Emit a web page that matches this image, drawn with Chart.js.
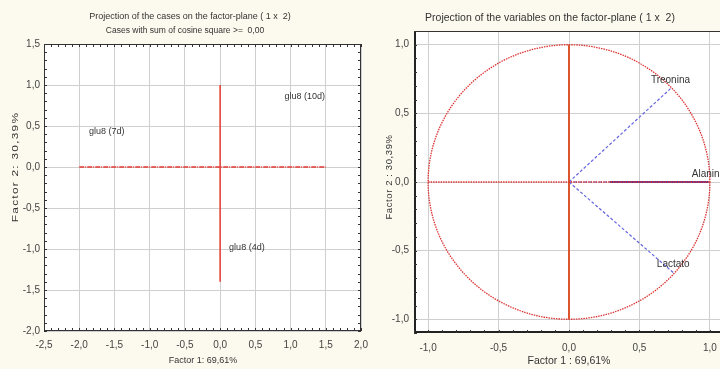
<!DOCTYPE html>
<html>
<head>
<meta charset="utf-8">
<script src="https://cdn.jsdelivr.net/npm/chart.js@4.4.0/dist/chart.umd.min.js"></script>
<style>
  html, body { margin: 0; padding: 0; background: #fcfaee; overflow: hidden; width: 720px; height: 369px; }
  canvas { position: absolute; top: 0; }
  #cases { left: 0; }
  #vars { left: 364px; }
</style>
</head>
<body>
<canvas id="cases" width="370" height="369"></canvas>
<canvas id="vars" width="370" height="369"></canvas>
<script>
// cases on the factor plane
const caseNames = ['glu8 (10d)', 'glu8 (7d)', 'glu8 (4d)'];
const caseF1 = [1.2, -1.61, 0.38];
const caseF2 = [0.765, 0.33, -1.08];
const caseLineH = [-2.0, 1.5];   // red line along factor 1
const caseLineV = [1.0, -1.4];   // red line along factor 2

// variables on the factor plane
const varNames = ['Treonina', 'Alanina', 'Lactato'];
const varF1 = [0.72, 0.99, 0.74];
const varF2 = [0.68, 0.0, -0.66];
const alaninaSeg = [0.29, 0.99];
const varLineH = [-1.0, 1.0];
const varLineV = [-1.0, 1.0];
const circleR = 1.0;
const origin = [0, 0];

Chart.defaults.font.family = "'Liberation Sans', Arial, sans-serif";
Chart.defaults.font.size = 10;
Chart.defaults.color = '#444';

const fmt = v => v.toFixed(1).replace('.', ',');

const plotBg = {
  id: 'plotBg',
  beforeDraw(chart) {
    const { ctx, chartArea: a } = chart;
    ctx.save();
    ctx.fillStyle = '#ffffff';
    ctx.fillRect(a.left, a.top, a.right - a.left, a.bottom - a.top);
    ctx.restore();
  }
};

const pointLabels = {
  id: 'pointLabels',
  afterDatasetsDraw(chart, args, o) {
    const { ctx, scales: { x, y } } = chart;
    ctx.save();
    ctx.font = o.font;
    ctx.fillStyle = '#333';
    ctx.textAlign = 'center';
    ctx.textBaseline = 'middle';
    o.names.forEach((n, i) => {
      ctx.fillText(n, x.getPixelForValue(o.xs[i]), y.getPixelForValue(o.ys[i]) - o.gap);
    });
    ctx.restore();
  }
};

// frame with small inner ticks, titles
const frame = {
  id: 'frame',
  afterDraw(chart, args, o) {
    const { ctx, chartArea: a, scales: { x, y } } = chart;
    ctx.save();
    ctx.strokeStyle = '#333';
    ctx.lineWidth = 1;
    ctx.strokeRect(a.left + 0.5, a.top + 0.5, a.right - a.left - 1, a.bottom - a.top - 1);
    if (o.heavy) {
      ctx.lineWidth = 2;
      ctx.strokeStyle = '#222';
      ctx.beginPath();
      ctx.moveTo(a.left + 1, a.top);
      ctx.lineTo(a.left + 1, a.bottom - 1);
      ctx.lineTo(a.right, a.bottom - 1);
      ctx.stroke();
    }
    ctx.lineWidth = 1;
    ctx.strokeStyle = '#333';
    ctx.beginPath();
    for (let i = Math.ceil(x.min * 10); i <= Math.floor(x.max * 10); i++) {
      const px = Math.round(x.getPixelForValue(i / 10)) + 0.5;
      ctx.moveTo(px, a.bottom); ctx.lineTo(px, a.bottom - 3);
      if (o.allSides) { ctx.moveTo(px, a.top); ctx.lineTo(px, a.top + 3); }
    }
    for (let i = Math.ceil(y.min * 10); i <= Math.floor(y.max * 10); i++) {
      const py = Math.round(y.getPixelForValue(i / 10)) + 0.5;
      ctx.moveTo(a.left, py); ctx.lineTo(a.left + 3, py);
      if (o.allSides) { ctx.moveTo(a.right, py); ctx.lineTo(a.right - 3, py); }
    }
    ctx.stroke();

    ctx.fillStyle = '#333';
    ctx.textAlign = 'center';
    ctx.textBaseline = 'middle';
    o.titles.forEach(t => {
      ctx.font = t.font;
      ctx.fillText(t.text, t.x, t.y);
    });
    ctx.font = o.xTitleFont;
    ctx.fillText(o.xTitle, o.xTitlePos[0], o.xTitlePos[1]);
    ctx.font = o.yTitleFont;
    ctx.letterSpacing = o.ySpacing;
    ctx.translate(o.yTitlePos[0], o.yTitlePos[1]);
    ctx.rotate(-Math.PI / 2);
    ctx.scale(o.yStretch, 1);
    ctx.fillText(o.yTitle, 0, 0);
    ctx.restore();
  }
};

const unitCircle = {
  id: 'unitCircle',
  beforeDatasetsDraw(chart) {
    const { ctx, scales: { x, y } } = chart;
    const cx = x.getPixelForValue(origin[0]);
    const cy = y.getPixelForValue(origin[1]);
    const rx = x.getPixelForValue(circleR) - cx;
    const ry = cy - y.getPixelForValue(circleR);
    ctx.save();
    ctx.strokeStyle = 'rgb(220,50,50)';
    ctx.lineWidth = 1.3;
    ctx.setLineDash([1.5, 1]);
    ctx.beginPath();
    ctx.ellipse(cx, cy, rx, ry, 0, 0, Math.PI * 2);
    ctx.stroke();
    ctx.restore();
  }
};

function linScale(min, max, w, pad, isY) {
  return {
    type: 'linear', min: min, max: max,
    grid: { color: '#cfcfcf', drawTicks: false },
    border: { display: false },
    ticks: { stepSize: 0.5, includeBounds: false, padding: pad, color: '#444', callback: v => fmt(v) },
    afterBuildTicks: s => { s.ticks = s.ticks.filter(t => Math.abs(t.value * 2 - Math.round(t.value * 2)) < 1e-6); },
    afterFit: s => {
      if (isY) { s.width = w; s.paddingTop = 0; s.paddingBottom = 0; }
      else { s.height = w; s.paddingLeft = 0; s.paddingRight = 0; }
    }
  };
}

new Chart(document.getElementById('cases'), {
  type: 'scatter',
  data: {
    datasets: [
      { data: caseF1.map((v, i) => ({ x: v, y: caseF2[i] })), pointRadius: 0 },
      { data: caseLineH.map(v => ({ x: v, y: 0 })), showLine: true, borderColor: 'rgb(225,55,50)', borderWidth: 1.3, borderDash: [5, 1, 1, 1], pointRadius: 0 },
      { data: caseLineV.map(v => ({ x: 0, y: v })), showLine: true, borderColor: 'rgb(230,60,50)', borderWidth: 1.5, pointRadius: 0 }
    ]
  },
  options: {
    responsive: false,
    animation: false,
    layout: { padding: { left: 0, top: 44, right: 9, bottom: 0 } },
    scales: {
      x: linScale(-2.5, 2.0, 38, 8, false),
      y: linScale(-2.0, 1.5, 44, 4, true)
    },
    plugins: {
      legend: { display: false },
      tooltip: { enabled: false },
      pointLabels: { names: caseNames, xs: caseF1, ys: caseF2, gap: 8, font: "9px 'Liberation Sans', Arial" },
      frame: {
        allSides: true,
        titles: [
          { text: 'Projection of the cases on the factor-plane ( 1 x  2)', x: 190, y: 17, font: "9px 'Liberation Sans', Arial" },
          { text: 'Cases with sum of cosine square >=  0,00', x: 185, y: 31, font: "8.5px 'Liberation Sans', Arial" }
        ],
        xTitleFont: "9px 'Liberation Sans', Arial",
        xTitle: 'Factor 1: 69,61%', xTitlePos: [203, 361],
        yTitleFont: "9.5px 'Liberation Sans', Arial",
        yTitle: 'Factor 2: 30,39%', yTitlePos: [15, 167], ySpacing: '1px', yStretch: 1.25
      }
    }
  },
  plugins: [plotBg, pointLabels, frame]
});

new Chart(document.getElementById('vars'), {
  type: 'scatter',
  data: {
    datasets: [
      { data: varLineH.map(v => ({ x: v, y: 0 })), showLine: true, borderColor: 'rgb(225,50,50)', borderWidth: 1.3, borderDash: [1.5, 1], pointRadius: 0 },
      { data: varLineV.map(v => ({ x: 0, y: v })), showLine: true, borderColor: 'rgb(220,85,45)', borderWidth: 2, pointRadius: 0 },
      { data: alaninaSeg.map(v => ({ x: v, y: 0 })), showLine: true, borderColor: 'rgb(85,55,150)', borderWidth: 2, pointRadius: 0 },
      ...varF1.map((v, i) => ({
        data: [{ x: origin[0], y: origin[1] }, { x: v, y: varF2[i] }],
        showLine: true, borderColor: 'rgb(100,100,225)', borderWidth: 1.2, borderDash: [3, 2], pointRadius: 0
      }))
    ]
  },
  options: {
    responsive: false,
    animation: false,
    layout: { padding: { left: 0, top: 31, right: 10, bottom: 0 } },
    scales: {
      x: linScale(-1.1, 1.1, 36, 9, false),
      y: linScale(-1.1, 1.1, 50, 5, true)
    },
    plugins: {
      legend: { display: false },
      tooltip: { enabled: false },
      pointLabels: { names: varNames, xs: varF1, ys: varF2, gap: 8, font: "10px 'Liberation Sans', Arial" },
      frame: {
        allSides: false,
        heavy: true,
        titles: [
          { text: 'Projection of the variables on the factor-plane ( 1 x  2)', x: 186, y: 18, font: "10.5px 'Liberation Sans', Arial" }
        ],
        xTitleFont: "10.5px 'Liberation Sans', Arial",
        xTitle: 'Factor 1 : 69,61%', xTitlePos: [205, 361],
        yTitleFont: "9.5px 'Liberation Sans', Arial",
        yTitle: 'Factor 2 : 30,39%', yTitlePos: [25, 177], ySpacing: '0.6px', yStretch: 1
      }
    }
  },
  plugins: [plotBg, unitCircle, pointLabels, frame]
});
</script>
</body>
</html>
